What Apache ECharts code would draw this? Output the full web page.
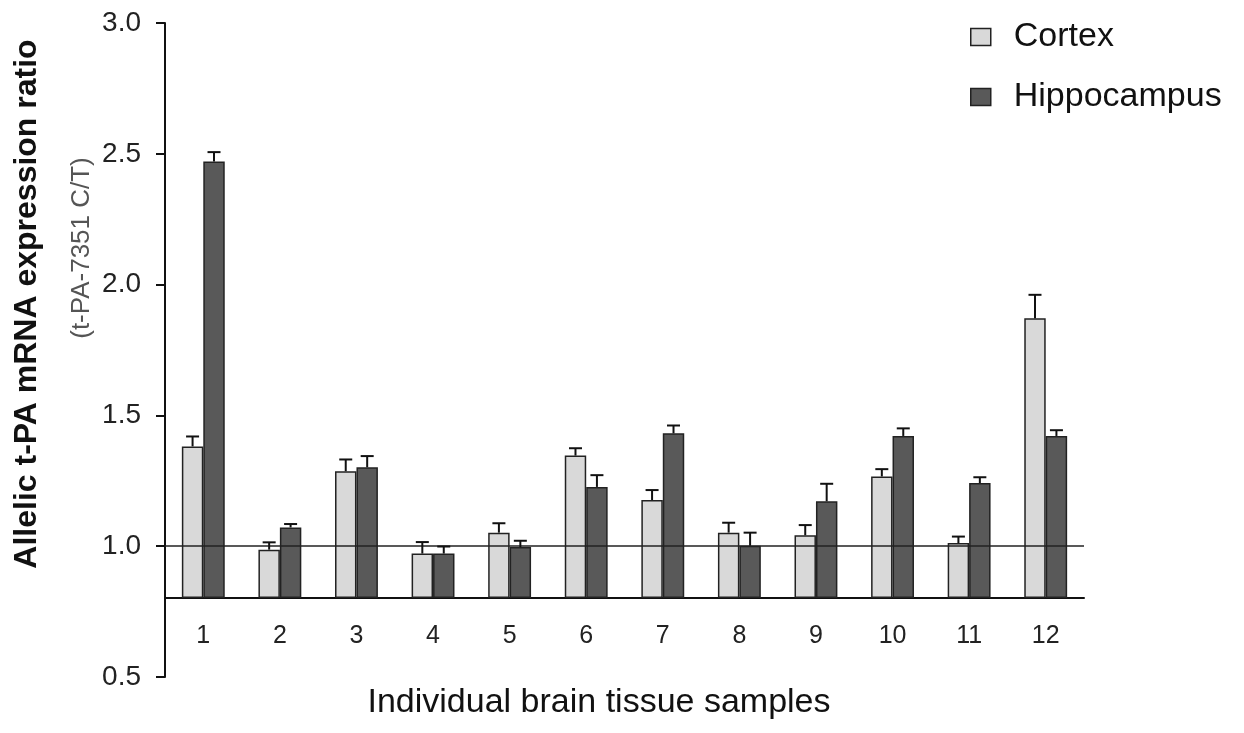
<!DOCTYPE html>
<html>
<head>
<meta charset="utf-8">
<script src="https://cdn.jsdelivr.net/npm/echarts@6/dist/echarts.min.js"></script>
<style>
  html, body { margin: 0; padding: 0; background: #fff; }
  #chart { width: 1244px; height: 733px; }
</style>
</head>
<body>
<div id="chart"></div>
<script>
// ---- data ----
const categories = ['1', '2', '3', '4', '5', '6', '7', '8', '9', '10', '11', '12'];
const cortex     = [1.38, 0.985, 1.285, 0.97, 1.05, 1.345, 1.175, 1.05, 1.04, 1.265, 1.01, 1.87];
const cortexErr  = [0.038, 0.028, 0.045, 0.044, 0.036, 0.028, 0.038, 0.038, 0.039, 0.028, 0.025, 0.09];
const hippo      = [2.47, 1.07, 1.30, 0.97, 0.995, 1.225, 1.43, 1.0, 1.17, 1.42, 1.24, 1.42];
const hippoErr   = [0.036, 0.013, 0.043, 0.027, 0.024, 0.045, 0.03, 0.05, 0.067, 0.029, 0.022, 0.022];
const yTicks     = [0.5, 1.0, 1.5, 2.0, 2.5, 3.0];
const barBase    = 0.8;
const refLine    = 1.0;

const FONT = '"Liberation Sans", Arial, Helvetica, sans-serif';
const chart = echarts.init(document.getElementById('chart'), null, { renderer: 'canvas' });

const BAR_RATIO = 0.28;

function errSeries(name, vals, errs, side) {
  return {
    type: 'custom',
    name: name + ' err',
    xAxisIndex: 0, yAxisIndex: 0,
    z: 5,
    silent: true,
    clip: false,
    encode: { x: 0, y: 1 },
    data: vals.map((v, i) => [i, v, errs[i]]),
    renderItem: function (params, api) {
      const cat = api.value(0), v = api.value(1), e = api.value(2);
      const band = api.size([1, 0])[0];
      const off = side * band * BAR_RATIO / 2;
      const p0 = api.coord([cat, v]);
      const p1 = api.coord([cat, v + e]);
      const x = p0[0] + off;
      const hw = 6.5;
      return {
        type: 'group',
        children: [
          { type: 'line', shape: { x1: x, y1: p0[1], x2: x, y2: p1[1] }, style: { stroke: '#111', lineWidth: 2 } },
          { type: 'line', shape: { x1: x - hw, y1: p1[1], x2: x + hw, y2: p1[1] }, style: { stroke: '#111', lineWidth: 2 } }
        ]
      };
    }
  };
}

const option = {
  backgroundColor: '#ffffff',
  animation: false,
  textStyle: { fontFamily: FONT },
  grid: [
    { left: 165, right: 160, top: 23, bottom: 135 },
    { left: 165, right: 160, top: 23, bottom: 56 }
  ],
  legend: {
    orient: 'vertical',
    left: 965, top: 15,
    icon: 'rect',
    itemWidth: 20, itemHeight: 17,
    itemGap: 26,
    data: ['Cortex', 'Hippocampus'],
    textStyle: { fontFamily: FONT, fontSize: 34, color: '#111', padding: [0, 0, 0, 18] },
    itemStyle: { borderColor: '#222', borderWidth: 1.5 }
  },
  xAxis: [
    {
      type: 'category', gridIndex: 0, data: categories,
      axisLine: { lineStyle: { color: '#111', width: 2 } },
      axisTick: { show: false },
      axisLabel: { fontFamily: FONT, fontSize: 25, color: '#222', margin: 26 },
      splitLine: { show: false }
    },
    {
      type: 'category', gridIndex: 1, data: categories, show: false
    }
  ],
  yAxis: [
    {
      type: 'value', gridIndex: 0, min: barBase, max: 3.0, startValue: barBase,
      show: false, splitLine: { show: false }
    },
    {
      type: 'value', gridIndex: 1, min: yTicks[0], max: yTicks[yTicks.length - 1], interval: 0.5,
      axisLine: { show: true, lineStyle: { color: '#111', width: 2 } },
      axisTick: { show: true, inside: false, length: 9, lineStyle: { color: '#111', width: 2 } },
      axisLabel: { fontFamily: FONT, fontSize: 28, color: '#222', margin: 24, formatter: v => v.toFixed(1) },
      splitLine: { show: false }
    }
  ],
  graphic: [
    {
      type: 'text', silent: true,
      x: 599, y: 703,
      style: { text: 'Individual brain tissue samples', font: '34px ' + FONT, fill: '#111', align: 'center', verticalAlign: 'middle' }
    },
    {
      type: 'text', silent: true,
      x: 27, y: 304, rotation: Math.PI / 2,
      style: { text: 'Allelic t-PA mRNA expression ratio', font: 'bold 32px ' + FONT, fill: '#111', align: 'center', verticalAlign: 'middle' }
    },
    {
      type: 'text', silent: true,
      x: 82, y: 248, rotation: Math.PI / 2,
      style: { text: '(t-PA-7351 C/T)', font: '26px ' + FONT, fill: '#555', align: 'center', verticalAlign: 'middle' }
    }
  ],
  series: [
    {
      name: 'Cortex', type: 'bar', xAxisIndex: 0, yAxisIndex: 0,
      data: cortex, barWidth: (BAR_RATIO * 100) + '%', barGap: '0%',
      itemStyle: { color: '#d9d9d9', borderColor: '#222', borderWidth: 1.5 },
      markLine: {
        silent: true, symbol: 'none', label: { show: false },
        lineStyle: { color: '#222', width: 1.5, type: 'solid' },
        data: [{ yAxis: refLine }]
      }
    },
    {
      name: 'Hippocampus', type: 'bar', xAxisIndex: 0, yAxisIndex: 0,
      data: hippo, barWidth: (BAR_RATIO * 100) + '%', barGap: '0%',
      itemStyle: { color: '#595959', borderColor: '#222', borderWidth: 1.5 }
    },
    errSeries('Cortex', cortex, cortexErr, -1),
    errSeries('Hippocampus', hippo, hippoErr, 1)
  ]
};

chart.setOption(option);
</script>
</body>
</html>
